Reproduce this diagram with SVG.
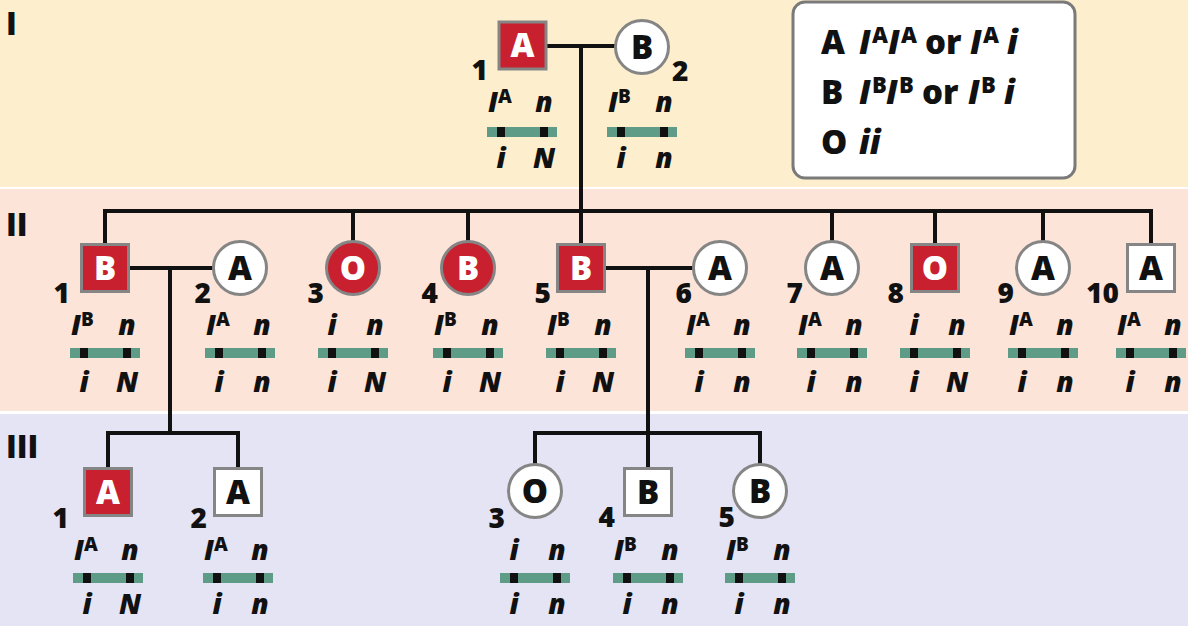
<svg xmlns="http://www.w3.org/2000/svg" width="1188" height="626" viewBox="0 0 1188 626">
<style>
.b1{fill:#fdeecd}.b2{fill:#fde4d8}.b3{fill:#e4e4f4}
.ln{stroke:#111;stroke-width:4;fill:none}
.sh{stroke:#858585;stroke-width:3}
.red{fill:#c8202f}.wh{fill:#fff}
.sym{font-family:"Open Sans","Noto Sans","DejaVu Sans",sans-serif;font-weight:800;font-size:33px;text-anchor:middle}
.sw{fill:#fff}.sb{fill:#111}
.num{font-family:"Open Sans","Noto Sans","DejaVu Sans",sans-serif;font-weight:800;font-size:28px;text-anchor:end;fill:#111}
.al{font-family:"Open Sans","Noto Sans","DejaVu Sans",sans-serif;font-weight:800;font-style:italic;font-size:28px;fill:#111}
.m{text-anchor:middle}
.sup{font-style:normal;font-size:19px}
.bar{fill:#5e9c87}.mk{fill:#111}
.rom{font-family:"Open Sans","Noto Sans","DejaVu Sans",sans-serif;font-weight:800;font-size:31px;fill:#111}
.lg{font-family:"Open Sans","Noto Sans","DejaVu Sans",sans-serif;font-weight:800;font-size:33px;fill:#111}
.lgi{font-style:italic}
.lgs{font-size:22px}
</style>
<defs>
<g id="chrom">
<rect class="bar" x="-35" y="0" width="70" height="10"/>
<rect class="mk" x="-25" y="0" width="8" height="10"/>
<rect class="mk" x="18" y="0" width="8" height="10"/>
</g>
</defs>
<rect width="1188" height="626" fill="#fff"/>
<rect class="b1" x="-20" y="-20" width="1228" height="207" rx="12"/>
<rect class="b2" x="-20" y="189" width="1228" height="222" rx="12"/>
<rect class="b3" x="-20" y="414" width="1228" height="232" rx="12"/>

<g id="generation-labels">
<text class="rom" x="6" y="35">I</text>
<text class="rom" x="6" y="236">II</text>
<text class="rom" x="6" y="458">III</text>
</g>

<g id="legend">
<rect x="793" y="2" width="282" height="176" rx="12" fill="#fff" stroke="#7a7a7a" stroke-width="3"/>
<text class="lg" y="54"><tspan x="821">A</tspan><tspan class="lgi" x="859">I</tspan><tspan class="lgs" x="872" dy="-11">A</tspan><tspan class="lgi" x="888" dy="11">I</tspan><tspan class="lgs" x="901" dy="-11">A</tspan><tspan x="925" dy="11">or</tspan><tspan class="lgi" x="970">I</tspan><tspan class="lgs" x="983" dy="-11">A</tspan><tspan class="lgi" x="1007" dy="11">i</tspan></text>
<text class="lg" y="104"><tspan x="821">B</tspan><tspan class="lgi" x="859">I</tspan><tspan class="lgs" x="872" dy="-11">B</tspan><tspan class="lgi" x="886" dy="11">I</tspan><tspan class="lgs" x="899" dy="-11">B</tspan><tspan x="922" dy="11">or</tspan><tspan class="lgi" x="968">I</tspan><tspan class="lgs" x="981" dy="-11">B</tspan><tspan class="lgi" x="1004" dy="11">i</tspan></text>
<text class="lg" y="154"><tspan x="821">O</tspan><tspan class="lgi" x="859">ii</tspan></text>
</g>

<g id="connectors">
<path class="ln" d="M546 46H616M581 46V211"/>
<path class="ln" d="M103 211H1153M105 211V244M353 211V242M468 211V242M581 211V244M832 211V242M935 211V244M1043 211V242M1151 211V244"/>
<path class="ln" d="M128 268H214M170 268V433M106 433H240M108 433V468M238 433V468"/>
<path class="ln" d="M604 268H694M648 268V433M533 433H762M535 433V466M648 433V468M760 433V466"/>
</g>

<g id="I-1">
<rect class="red sh" x="499" y="22" width="47" height="47"/>
<text class="sym sw" x="522.5" y="57">A</text>
<text class="num" x="488" y="80">1</text>
<text class="al" x="488" y="112">I<tspan class="sup" dy="-9">A</tspan></text>
<text class="al m" x="544" y="112">n</text>
<use href="#chrom" x="522" y="127"/>
<text class="al m" x="501" y="168">i</text>
<text class="al m" x="544" y="168">N</text>
</g>
<g id="I-2">
<circle class="wh sh" cx="642" cy="47" r="26.5"/>
<text class="sym sb" x="642" y="58.5">B</text>
<text class="num" style="text-anchor:start" x="672" y="81">2</text>
<text class="al" x="608" y="112">I<tspan class="sup" dy="-9">B</tspan></text>
<text class="al m" x="664" y="112">n</text>
<use href="#chrom" x="642" y="127"/>
<text class="al m" x="621" y="168">i</text>
<text class="al m" x="664" y="168">n</text>
</g>

<g id="II-1">
<rect class="red sh" x="81.5" y="244.5" width="47" height="47"/>
<text class="sym sw" x="105" y="279.5">B</text>
<text class="num" x="70" y="303">1</text>
<text class="al" x="71" y="335">I<tspan class="sup" dy="-9">B</tspan></text>
<text class="al m" x="127" y="335">n</text>
<use href="#chrom" x="105" y="348"/>
<text class="al m" x="84" y="392">i</text>
<text class="al m" x="127" y="392">N</text>
</g>
<g id="II-2">
<circle class="wh sh" cx="240" cy="268" r="26.5"/>
<text class="sym sb" x="240" y="279.5">A</text>
<text class="num" x="211" y="303">2</text>
<text class="al" x="206" y="335">I<tspan class="sup" dy="-9">A</tspan></text>
<text class="al m" x="262" y="335">n</text>
<use href="#chrom" x="240" y="348"/>
<text class="al m" x="219" y="392">i</text>
<text class="al m" x="262" y="392">n</text>
</g>
<g id="II-3">
<circle class="red sh" cx="353" cy="268" r="26.5"/>
<text class="sym sw" x="353" y="279.5">O</text>
<text class="num" x="324" y="303">3</text>
<text class="al m" x="332" y="335">i</text>
<text class="al m" x="375" y="335">n</text>
<use href="#chrom" x="353" y="348"/>
<text class="al m" x="332" y="392">i</text>
<text class="al m" x="375" y="392">N</text>
</g>
<g id="II-4">
<circle class="red sh" cx="468" cy="268" r="26.5"/>
<text class="sym sw" x="468" y="279.5">B</text>
<text class="num" x="438" y="303">4</text>
<text class="al" x="434" y="335">I<tspan class="sup" dy="-9">B</tspan></text>
<text class="al m" x="490" y="335">n</text>
<use href="#chrom" x="468" y="348"/>
<text class="al m" x="447" y="392">i</text>
<text class="al m" x="490" y="392">N</text>
</g>
<g id="II-5">
<rect class="red sh" x="557.5" y="244.5" width="47" height="47"/>
<text class="sym sw" x="581" y="279.5">B</text>
<text class="num" x="551" y="303">5</text>
<text class="al" x="547" y="335">I<tspan class="sup" dy="-9">B</tspan></text>
<text class="al m" x="603" y="335">n</text>
<use href="#chrom" x="581" y="348"/>
<text class="al m" x="560" y="392">i</text>
<text class="al m" x="603" y="392">N</text>
</g>
<g id="II-6">
<circle class="wh sh" cx="720" cy="268" r="26.5"/>
<text class="sym sb" x="720" y="279.5">A</text>
<text class="num" x="692" y="303">6</text>
<text class="al" x="686" y="335">I<tspan class="sup" dy="-9">A</tspan></text>
<text class="al m" x="742" y="335">n</text>
<use href="#chrom" x="720" y="348"/>
<text class="al m" x="699" y="392">i</text>
<text class="al m" x="742" y="392">n</text>
</g>
<g id="II-7">
<circle class="wh sh" cx="832" cy="268" r="26.5"/>
<text class="sym sb" x="832" y="279.5">A</text>
<text class="num" x="803" y="303">7</text>
<text class="al" x="798" y="335">I<tspan class="sup" dy="-9">A</tspan></text>
<text class="al m" x="854" y="335">n</text>
<use href="#chrom" x="832" y="348"/>
<text class="al m" x="811" y="392">i</text>
<text class="al m" x="854" y="392">n</text>
</g>
<g id="II-8">
<rect class="red sh" x="911.5" y="244.5" width="47" height="47"/>
<text class="sym sw" x="935" y="279.5">O</text>
<text class="num" x="904" y="303">8</text>
<text class="al m" x="914" y="335">i</text>
<text class="al m" x="957" y="335">n</text>
<use href="#chrom" x="935" y="348"/>
<text class="al m" x="914" y="392">i</text>
<text class="al m" x="957" y="392">N</text>
</g>
<g id="II-9">
<circle class="wh sh" cx="1043" cy="268" r="26.5"/>
<text class="sym sb" x="1043" y="279.5">A</text>
<text class="num" x="1014" y="303">9</text>
<text class="al" x="1009" y="335">I<tspan class="sup" dy="-9">A</tspan></text>
<text class="al m" x="1065" y="335">n</text>
<use href="#chrom" x="1043" y="348"/>
<text class="al m" x="1022" y="392">i</text>
<text class="al m" x="1065" y="392">n</text>
</g>
<g id="II-10">
<rect class="wh sh" x="1127.5" y="244.5" width="47" height="47"/>
<text class="sym sb" x="1151" y="279.5">A</text>
<text class="num" x="1119" y="303">10</text>
<text class="al" x="1117" y="335">I<tspan class="sup" dy="-9">A</tspan></text>
<text class="al m" x="1173" y="335">n</text>
<use href="#chrom" x="1151" y="348"/>
<text class="al m" x="1130" y="392">i</text>
<text class="al m" x="1173" y="392">n</text>
</g>

<g id="III-1">
<rect class="red sh" x="84.5" y="468.5" width="47" height="47"/>
<text class="sym sw" x="108" y="503.5">A</text>
<text class="num" x="69" y="528">1</text>
<text class="al" x="74" y="560">I<tspan class="sup" dy="-9">A</tspan></text>
<text class="al m" x="130" y="560">n</text>
<use href="#chrom" x="108" y="573"/>
<text class="al m" x="87" y="614">i</text>
<text class="al m" x="130" y="614">N</text>
</g>
<g id="III-2">
<rect class="wh sh" x="214.5" y="468.5" width="47" height="47"/>
<text class="sym sb" x="238" y="503.5">A</text>
<text class="num" x="207" y="528">2</text>
<text class="al" x="204" y="560">I<tspan class="sup" dy="-9">A</tspan></text>
<text class="al m" x="260" y="560">n</text>
<use href="#chrom" x="238" y="573"/>
<text class="al m" x="217" y="614">i</text>
<text class="al m" x="260" y="614">n</text>
</g>
<g id="III-3">
<circle class="wh sh" cx="535" cy="491" r="26.5"/>
<text class="sym sb" x="535" y="502.5">O</text>
<text class="num" x="505" y="528">3</text>
<text class="al m" x="514" y="560">i</text>
<text class="al m" x="557" y="560">n</text>
<use href="#chrom" x="535" y="573"/>
<text class="al m" x="514" y="614">i</text>
<text class="al m" x="557" y="614">n</text>
</g>
<g id="III-4">
<rect class="wh sh" x="624.5" y="468.5" width="47" height="47"/>
<text class="sym sb" x="648" y="503.5">B</text>
<text class="num" x="615" y="527">4</text>
<text class="al" x="614" y="560">I<tspan class="sup" dy="-9">B</tspan></text>
<text class="al m" x="670" y="560">n</text>
<use href="#chrom" x="648" y="573"/>
<text class="al m" x="627" y="614">i</text>
<text class="al m" x="670" y="614">n</text>
</g>
<g id="III-5">
<circle class="wh sh" cx="760" cy="491" r="26.5"/>
<text class="sym sb" x="760" y="502.5">B</text>
<text class="num" x="735" y="527">5</text>
<text class="al" x="726" y="560">I<tspan class="sup" dy="-9">B</tspan></text>
<text class="al m" x="782" y="560">n</text>
<use href="#chrom" x="760" y="573"/>
<text class="al m" x="739" y="614">i</text>
<text class="al m" x="782" y="614">n</text>
</g>
</svg>
